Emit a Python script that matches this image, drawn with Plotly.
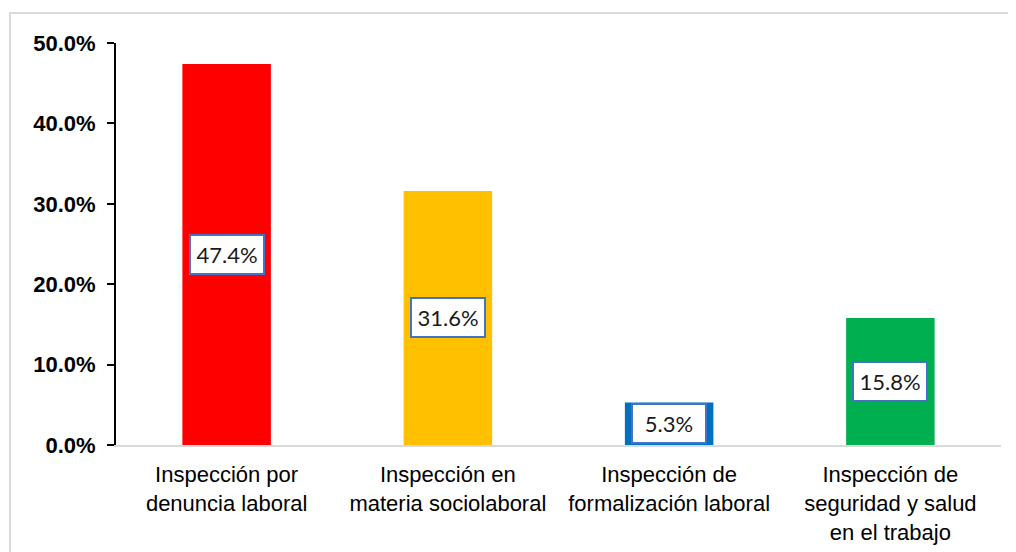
import plotly.graph_objects as go

# data
categories = [
    "Inspección por<br>denuncia laboral",
    "Inspección en<br>materia sociolaboral",
    "Inspección de<br>formalización laboral",
    "Inspección de<br>seguridad y salud<br>en el trabajo",
]
shares = [0.474, 0.316, 0.053, 0.158]
labels = ["47.4%", "31.6%", "5.3%", "15.8%"]
bar_colors = ["#FF0000", "#FFC000", "#0070C0", "#00B050"]

fig = go.Figure(
    go.Bar(
        x=categories,
        y=shares,
        marker=dict(color=bar_colors, line=dict(width=0)),
        width=0.4,
        hoverinfo="skip",
    )
)

# boxed value labels in the middle of each bar
for cat, val, lab in zip(categories, shares, labels):
    fig.add_annotation(
        x=cat,
        y=val / 2,
        text=lab,
        showarrow=False,
        font=dict(family="Lato, Noto Sans, sans-serif", size=22, color="#1a1a1a"),
        bgcolor="white",
        bordercolor="#4472C4",
        borderwidth=2,
        borderpad=3,
        width=66,
        height=31,
    )

# light grey frame around the chart area
fig.add_shape(
    type="rect",
    xref="paper",
    yref="paper",
    x0=-0.1198,
    x1=1.1,
    y0=-0.4,
    y1=1.0746,
    line=dict(color="#D9D9D9", width=2),
    fillcolor="rgba(0,0,0,0)",
    layer="below",
)

# the page adds an 8px body margin, so the figure is sized/offset for it
fig.update_layout(
    width=1008,
    height=544,
    margin=dict(l=108, r=15, t=35, b=107),
    paper_bgcolor="white",
    plot_bgcolor="white",
    showlegend=False,
    font=dict(family="Liberation Sans, Arial, sans-serif", color="black"),
)
fig.update_xaxes(
    showline=True,
    linecolor="#D9D9D9",
    linewidth=2,
    ticks="",
    tickfont=dict(size=22, color="black"),
    ticklabelstandoff=9,
    automargin=False,
    showgrid=False,
)
fig.update_yaxes(
    range=[0, 0.5],
    dtick=0.1,
    tickformat=".1%",
    showline=True,
    linecolor="black",
    linewidth=2,
    ticks="outside",
    ticklen=7,
    tickwidth=2,
    tickcolor="black",
    ticklabelstandoff=7,
    tickfont=dict(size=22, color="black", weight="bold"),
    automargin=False,
    showgrid=False,
    zeroline=False,
)

fig.write_html("out.html")
